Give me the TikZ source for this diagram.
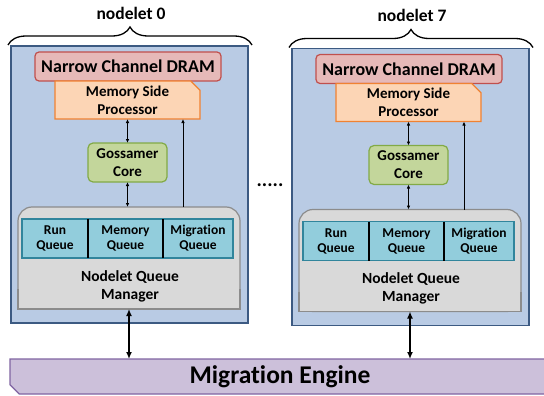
\documentclass[tikz,border=0pt]{standalone}
\usepackage{fontspec}
\setmainfont{Carlito}[Ligatures={NoCommon,NoRequired,NoContextual}]
\usetikzlibrary{arrows.meta,shapes.misc,decorations.pathreplacing}

\definecolor{nodeletblue}{RGB}{185,203,228}
\definecolor{nodeletedge}{RGB}{60,90,130}
\definecolor{dramfill}{RGB}{230,185,184}
\definecolor{dramedge}{RGB}{192,80,77}
\definecolor{mspfill}{RGB}{252,213,181}
\definecolor{mspedge}{RGB}{240,130,50}
\definecolor{corefill}{RGB}{195,214,155}
\definecolor{coreedge}{RGB}{130,170,70}
\definecolor{mgrfill}{RGB}{217,217,217}
\definecolor{mgredge}{RGB}{140,140,140}
\definecolor{queuefill}{RGB}{146,205,220}
\definecolor{queueedge}{RGB}{49,133,156}
\definecolor{enginefill}{RGB}{204,192,218}
\definecolor{engineedge}{RGB}{128,100,162}

\tikzset{
  box/.style={draw, line width=1.2pt, inner sep=0pt, outer sep=0pt, align=center,
    font=\bfseries\fontsize{15}{18}\selectfont},
  nodeletbox/.style={box, fill=nodeletblue, draw=nodeletedge},
  dram/.style={box, fill=dramfill, draw=dramedge, rounded corners=4pt,
    font=\bfseries\fontsize{18}{20}\selectfont},
  msp/.style={box, fill=mspfill, draw=mspedge, chamfered rectangle,
    chamfered rectangle corners=north east, chamfered rectangle xsep=6pt},
  core/.style={box, fill=corefill, draw=coreedge, rounded corners=5pt},
  mgr/.style={box, fill=mgrfill, draw=mgredge, rounded corners=14pt},
  queue/.style={box, fill=queuefill, draw=queueedge, minimum height=39pt,
    font=\bfseries\fontsize{13.5}{15}\selectfont},
  engine/.style={box, fill=enginefill, draw=engineedge, chamfered rectangle,
    chamfered rectangle corners=south west, chamfered rectangle xsep=6pt,
    font=\bfseries\fontsize{25.5}{30}\selectfont},
  label/.style={inner sep=0pt, align=center, font=\bfseries\fontsize{15.5}{18}\selectfont},
  title/.style={inner sep=0pt, font=\bfseries\fontsize{17.5}{18}\selectfont},
  bracket/.style={decorate, decoration={brace, amplitude=18pt}, line width=1.3pt},
  divider/.style={line width=1.2pt, black},
  link/.style={{Latex[length=4pt,width=3.5pt]}-{Latex[length=4pt,width=3.5pt]}, line width=0.9pt},
  uplink/.style={-{Latex[length=4pt,width=3.5pt]}, line width=0.9pt},
  buslink/.style={{Latex[length=7pt,width=6pt]}-{Latex[length=7pt,width=6pt]}, line width=1.8pt}
}

\begin{document}
\begin{tikzpicture}[x=1pt, y=-1pt]
  \useasboundingbox (0,0) rectangle (544,396);

  % Migration engine along the bottom
  \node[engine, minimum width=540pt, minimum height=35pt] (engine) at (280,376.5) {Migration Engine};

  % the gap between the nodelets
  \node[title, font=\bfseries\fontsize{20}{20}\selectfont] (gap) at (270,185) {.....};

  % Nodelet 0 and nodelet 7
  \foreach \dx/\dy/\n in {0/0/0, 281/2.5/7} {
    \begin{scope}[shift={(\dx,\dy)}]
      % frame and brace
      \node[nodeletbox, minimum width=237pt, minimum height=277pt] (frame\n) at (129.5,184.5) {};
      \node[title] (title\n) at (131,13) {nodelet \n};
      \draw[bracket] (8,45) -- (252,45);

      % memory and core
      \node[dram, minimum width=186pt, minimum height=29pt] (dram\n) at (128,66.5) {Narrow Channel DRAM};
      \node[msp, minimum width=145pt, minimum height=38pt] (msp\n) at (127.5,100) {Memory Side\\Processor};
      \node[core, minimum width=79pt, minimum height=39pt] (core\n) at (127.5,162.5) {Gossamer\\Core};

      % queue manager (square bottom corners)
      \node[mgr, minimum width=222pt, minimum height=102pt] (mgr\n) at (129,258) {};
      \fill[mgrfill] ([yshift=20pt]mgr\n.south west) rectangle (mgr\n.south east);
      \draw[mgredge, line width=1.2pt] ([yshift=20pt]mgr\n.south west) -- (mgr\n.south west)
        -- (mgr\n.south east) -- ([yshift=20pt]mgr\n.south east);

      % queues
      \node[queue, minimum width=66pt] (runq\n) at (55,238.5) {Run\\Queue};
      \node[queue, minimum width=75pt] (memq\n) at (125.5,238.5) {Memory\\Queue};
      \node[queue, minimum width=70pt] (migq\n) at (198,238.5) {Migration\\Queue};
      \draw[divider] (runq\n.north east) -- (runq\n.south east);
      \draw[divider] (memq\n.north east) -- (memq\n.south east);
      \node[label] (mgrlabel\n) at (130,286) {Nodelet Queue\\Manager};

      % connections
      \draw[link] (msp\n.south) -- (core\n.north);
      \draw[link] (core\n.south) -- (core\n.south |- mgr\n.north);
      \coordinate (tap\n) at ([xshift=54pt]mgr\n.north);
      \draw[uplink] (tap\n) -- (tap\n |- msp\n.south);
      \draw[buslink] (mgr\n.south) -- (mgr\n.south |- engine.north);
    \end{scope}
  }
\end{tikzpicture}
\end{document}
